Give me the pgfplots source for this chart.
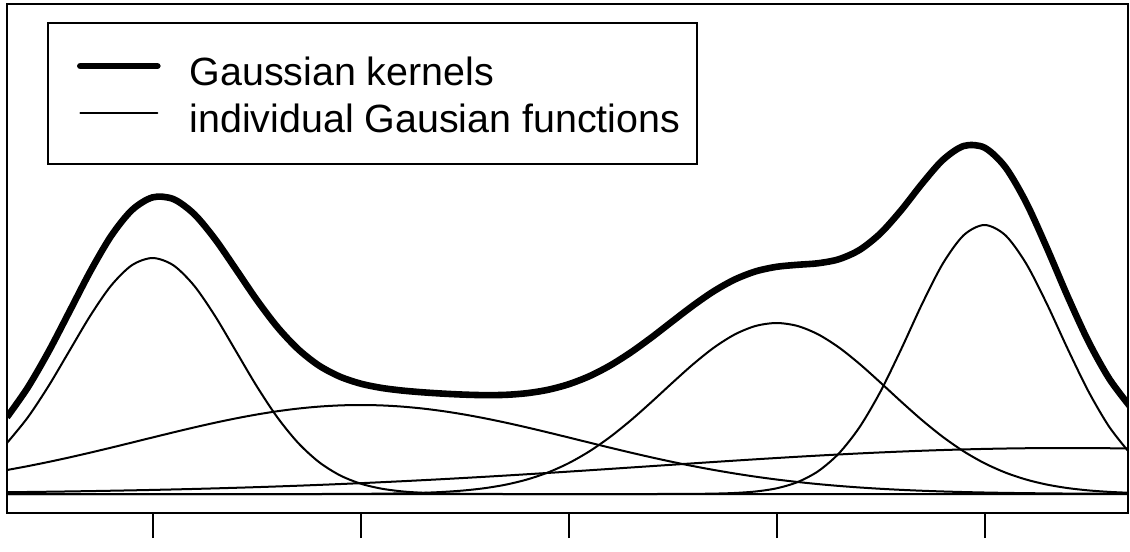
\documentclass[border=0pt]{standalone}
\usepackage{pgfplots}
\pgfplotsset{compat=1.18}
\usepackage{pgfplotstable}
\usepackage{fontspec}
\setmainfont{Liberation Sans}

\pgfplotstableread{
x g1 g2 g3 g4 g5 s
0.3 0.5105 0.2400 0 0 0.0178 0.7683
0.4 0.7662 0.2787 0 0 0.0202 1.0651
0.5 1.0804 0.3208 0 0 0.0229 1.4241
0.6 1.4314 0.3659 0 0 0.0258 1.8231
0.7 1.7813 0.4136 0 0 0.0291 2.2240
0.8 2.0827 0.4632 0 0 0.0327 2.5786
0.9 2.2873 0.5141 0 0 0.0366 2.8380
1.0 2.3600 0.5655 0 0 0.0409 2.9664
1.1 2.2873 0.6164 0 0 0.0456 2.9493
1.2 2.0827 0.6658 0 0 0.0507 2.7992
1.3 1.7813 0.7127 0 0 0.0563 2.5503
1.4 1.4314 0.7559 0 0 0.0623 2.2496
1.5 1.0804 0.7946 0 0 0.0687 1.9437
1.6 0.7662 0.8277 0 0 0.0757 1.6696
1.7 0.5105 0.8544 0 0 0.0831 1.4480
1.8 0.3194 0.8740 0 0 0.0910 1.2844
1.9 0.1878 0.8860 0.0009 0 0.0995 1.1742
2.0 0.1037 0.8900 0.0018 0 0.1084 1.1039
2.1 0.0538 0.8860 0.0035 0 0.1179 1.0612
2.2 0.0262 0.8740 0.0066 0 0.1279 1.0347
2.3 0.0120 0.8544 0.0120 0 0.1384 1.0168
2.4 0.0052 0.8277 0.0212 0 0.1493 1.0034
2.5 0.0021 0.7946 0.0361 0 0.1608 0.9936
2.6 0.0008 0.7559 0.0593 0 0.1726 0.9886
2.7 0 0.7127 0.0943 0 0.1849 0.9919
2.8 0 0.6658 0.1448 0 0.1976 1.0082
2.9 0 0.6164 0.2147 0 0.2106 1.0417
3.0 0 0.5655 0.3078 0 0.2239 1.0972
3.1 0 0.5141 0.4264 0 0.2374 1.1779
3.2 0 0.4632 0.5707 0 0.2512 1.2851
3.3 0 0.4136 0.7381 0 0.2651 1.4168
3.4 0 0.3659 0.9224 0 0.2790 1.5673
3.5 0 0.3208 1.1138 0.0005 0.2929 1.7280
3.6 0 0.2787 1.2997 0.0014 0.3068 1.8866
3.7 0 0.2400 1.4655 0.0040 0.3205 2.0300
3.8 0 0.2048 1.5966 0.0104 0.3340 2.1458
3.9 0 0.1731 1.6809 0.0253 0.3472 2.2265
4.0 0 0.1451 1.7100 0.0568 0.3600 2.2719
4.1 0 0.1205 1.6809 0.1182 0.3724 2.2920
4.2 0 0.0991 1.5966 0.2277 0.3842 2.3076
4.3 0 0.0808 1.4655 0.4062 0.3954 2.3479
4.4 0 0.0653 1.2997 0.6708 0.4060 2.4418
4.5 0 0.0523 1.1138 1.0253 0.4157 2.6071
4.6 0 0.0415 0.9224 1.4510 0.4246 2.8395
4.7 0 0.0326 0.7381 1.9009 0.4327 3.1043
4.8 0 0.0254 0.5707 2.3053 0.4398 3.3412
4.9 0 0.0196 0.4264 2.5882 0.4458 3.4800
5.0 0 0.0150 0.3078 2.6900 0.4509 3.4637
5.1 0 0.0114 0.2147 2.5882 0.4549 3.2692
5.2 0 0.0086 0.1448 2.3053 0.4577 2.9164
5.3 0 0.0064 0.0943 1.9009 0.4594 2.4610
5.4 0 0.0047 0.0593 1.4510 0.4600 1.9750
5.5 0 0.0034 0.0361 1.0253 0.4594 1.5242
5.6 0 0.0025 0.0212 0.6708 0.4577 1.1522
5.7 0 0.0018 0.0120 0.4062 0.4549 0.8749
}\data

\begin{document}
\begin{tikzpicture}
\begin{axis}[
  scale only axis,
  width=560.5pt, height=254.5pt,
  xmin=0.3, xmax=5.69, ymin=-0.19, ymax=4.90,
  xtick={1,2,3,4,5}, xticklabels={}, ytick=\empty,
  xtick pos=bottom, tick align=outside,
  major tick length=12.5pt,
  every tick/.style={black, line width=1pt},
  axis line style={line width=1pt},
  legend cell align=left,
  legend image code/.code={\path (-6pt,0pt); \draw[#1, line cap=round] (0pt,2pt) -- (38.5pt,2pt);},
  legend style={
    at={(0.0357,0.9646)}, anchor=north west,
    draw=black, line width=1pt,
    inner xsep=8.5pt, inner ysep=14pt,
    font=\fontsize{19.7pt}{23pt}\selectfont,
    row sep=4.5pt,
    nodes={inner sep=0pt, text height=17pt, text depth=2pt},
    /tikz/every odd column/.append style={column sep=14.5pt},
  },
]
\addplot[black, line width=3.3pt, smooth, line join=round] table[x=x, y=s] {\data};
\addlegendentry{Gaussian kernels}
\addplot[black, line width=1pt, smooth] table[x=x, y=g1] {\data};
\addlegendentry{individual Gausian functions}
\addplot[black, line width=1pt, smooth, forget plot] table[x=x, y=g2] {\data};
\addplot[black, line width=1pt, smooth, forget plot] table[x=x, y=g3] {\data};
\addplot[black, line width=1pt, smooth, forget plot] table[x=x, y=g4] {\data};
\addplot[black, line width=1pt, smooth, forget plot] table[x=x, y=g5] {\data};
\addplot[black, line width=1.25pt, forget plot] coordinates {(0.3,0) (5.69,0)};
\end{axis}
\path ([xshift=-3.5pt, yshift=-14pt]current axis.south west) -- ([xshift=1pt, yshift=2pt]current axis.north east);
\end{tikzpicture}
\end{document}
